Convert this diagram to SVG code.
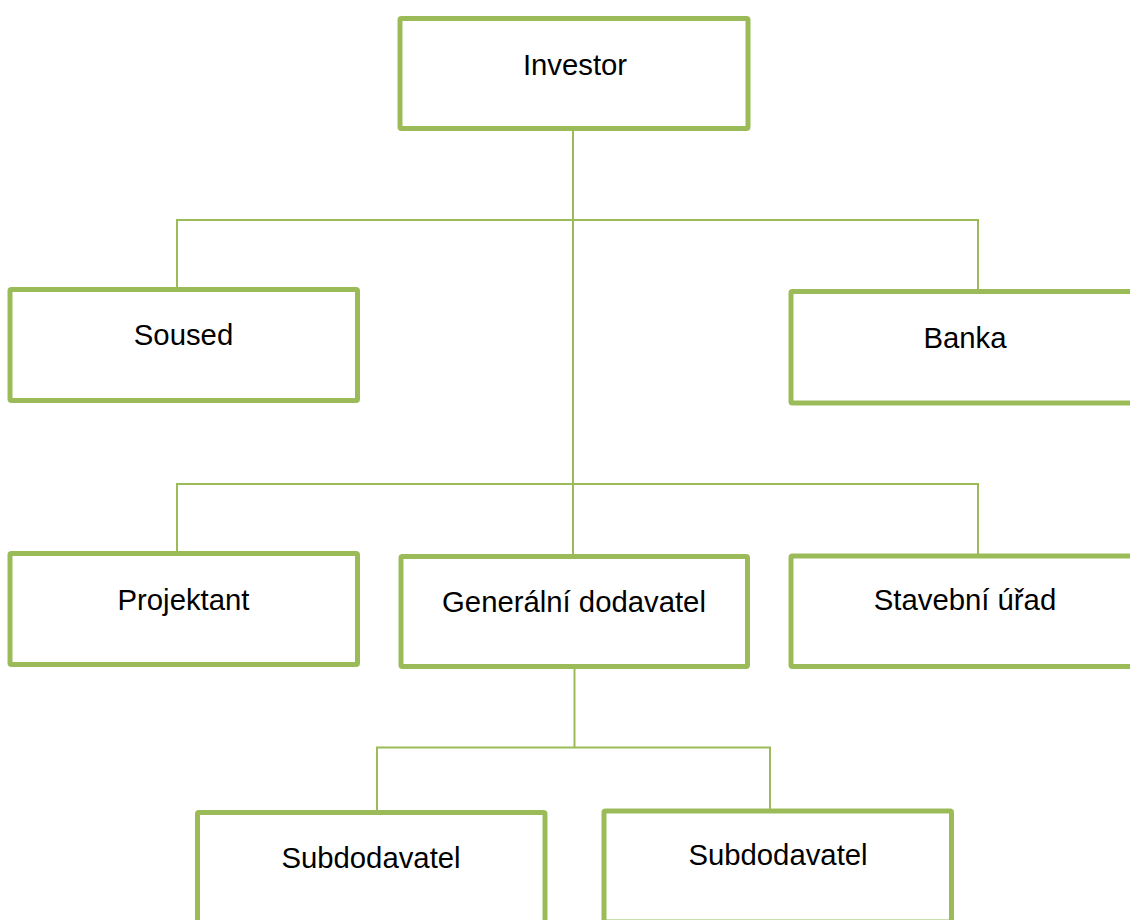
<svg xmlns="http://www.w3.org/2000/svg" width="1130" height="920" viewBox="0 0 1130 920">
<style>
.box{fill:#fff;stroke:#9BBB59;stroke-width:5;stroke-linejoin:round}
.lbl{font-family:"Liberation Sans",Arial,sans-serif;font-size:29.3px;fill:#000;text-anchor:middle}
.con{fill:none;stroke:#9BBB59;stroke-width:2}
</style>
<rect width="1130" height="920" fill="#fff"/>
<g id="connectors">
<path class="con" d="M573,130 V556"/>
<path class="con" d="M177,289 V220 H978 V291"/>
<path class="con" d="M177,553 V484 H978 V556"/>
<path class="con" d="M574.5,668 V747.5"/>
<path class="con" d="M377,812 V747.5 H770 V810"/>
</g>
<g id="investor"><rect class="box" x="400" y="18.5" width="348" height="110" rx="1.5"/><text class="lbl" x="575" y="75">Investor</text></g>
<g id="soused"><rect class="box" x="10" y="289.5" width="347.5" height="111" rx="1.5"/><text class="lbl" x="183.5" y="345">Soused</text></g>
<g id="banka"><rect class="box" x="791" y="291.5" width="348" height="111.5" rx="1.5"/><text class="lbl" x="965" y="348">Banka</text></g>
<g id="projektant"><rect class="box" x="10" y="553.5" width="347.5" height="111" rx="1.5"/><text class="lbl" x="183.5" y="609.5">Projektant</text></g>
<g id="generalni"><rect class="box" x="401" y="556.5" width="346.5" height="110" rx="1.5"/><text class="lbl" x="574" y="611.5">Generální dodavatel</text></g>
<g id="stavebni"><rect class="box" x="791" y="556" width="348" height="110.5" rx="1.5"/><text class="lbl" x="965" y="610">Stavební úřad</text></g>
<g id="subdodavatel1"><rect class="box" x="197.5" y="812.5" width="347.5" height="115" rx="1.5"/><text class="lbl" x="371" y="868">Subdodavatel</text></g>
<g id="subdodavatel2"><rect class="box" x="604" y="811" width="347.5" height="111" rx="1.5"/><text class="lbl" x="778" y="865">Subdodavatel</text></g>
</svg>
